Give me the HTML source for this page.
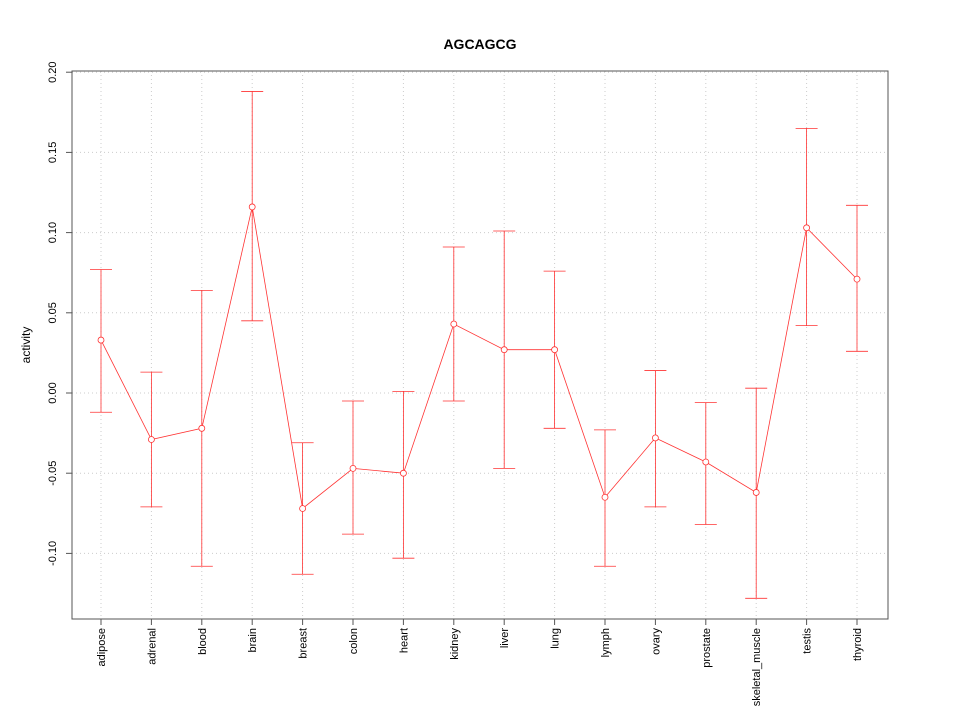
<!DOCTYPE html>
<html><head><meta charset="utf-8"><style>
body{margin:0;background:#fff}
svg text{font-family:"Liberation Sans",sans-serif;fill:#000}
</style></head><body>
<svg id="chart" width="960" height="720">
<text x="480" y="49" text-anchor="middle" font-weight="bold" font-size="14">AGCAGCG</text>
<text transform="translate(30,345) rotate(-90)" text-anchor="middle" font-size="12">activity</text>
<g id="grid"></g><g id="axes"></g><g id="marks"></g>
</svg>
<script>
const categories=["adipose","adrenal","blood","brain","breast","colon","heart","kidney","liver","lung","lymph","ovary","prostate","skeletal_muscle","testis","thyroid"];
const values=[0.033,-0.029,-0.022,0.116,-0.072,-0.047,-0.050,0.043,0.027,0.027,-0.065,-0.028,-0.043,-0.062,0.103,0.071];
const upper=[0.077,0.013,0.064,0.188,-0.031,-0.005,0.001,0.091,0.101,0.076,-0.023,0.014,-0.006,0.003,0.165,0.117];
const lower=[-0.012,-0.071,-0.108,0.045,-0.113,-0.088,-0.103,-0.005,-0.047,-0.022,-0.108,-0.071,-0.082,-0.128,0.042,0.026];
const yTicks=[-0.10,-0.05,0.00,0.05,0.10,0.15,0.20];
const yTickLabels=["-0.10","-0.05","0.00","0.05","0.10","0.15","0.20"];
const NS="http://www.w3.org/2000/svg";
const L=72,R=888,T=71,B=619;
function x(i){return 101+i*(857-101)/(categories.length-1);}
function y(v){return 393-v*1604;}
function mk(tag,attrs,parent){const e=document.createElementNS(NS,tag);for(const k in attrs)e.setAttribute(k,attrs[k]);document.getElementById(parent).appendChild(e);return e;}
let e;
categories.forEach((c,i)=>{
 e=mk("line",{x1:x(i),x2:x(i),y1:T,y2:B,stroke:"#ccc","stroke-dasharray":"1,3"},"grid");
 
 
 e=mk("line",{x1:x(i),x2:x(i),y1:B,y2:B+6,stroke:"#555"},"axes");
 
 
 e=mk("text",{transform:`translate(${x(i)+4},628) rotate(-90)`,"text-anchor":"end","font-size":"11"},"axes");
 e.textContent=c;
 
 
});
yTicks.forEach((v,i)=>{
 e=mk("line",{x1:L,x2:R,y1:y(v),y2:y(v),stroke:"#ccc","stroke-dasharray":"1,3"},"grid");
 
 
 e=mk("line",{x1:L-6,x2:L,y1:y(v),y2:y(v),stroke:"#555"},"axes");
 
 
 e=mk("text",{transform:`translate(${L-16},${y(v)}) rotate(-90)`,"text-anchor":"middle","font-size":"11"},"axes");
 e.textContent=yTickLabels[i];
 
 
});
e=mk("rect",{x:L,y:T,width:R-L,height:B-T,fill:"none",stroke:"#555"},"axes");


categories.forEach((c,i)=>{
 e=mk("line",{x1:x(i),x2:x(i),y1:y(upper[i]),y2:y(lower[i]),stroke:"#f33","stroke-width":"0.8"},"marks");
 
 
 [upper[i],lower[i]].forEach(v=>{
  e=mk("line",{x1:x(i)-11,x2:x(i)+11,y1:y(v),y2:y(v),stroke:"#f33","stroke-width":"0.8"},"marks");
  
  
 });
});
e=mk("polyline",{points:values.map((v,i)=>x(i)+","+y(v)).join(" "),fill:"none",stroke:"#f33","stroke-width":"0.8"},"marks");


values.forEach((v,i)=>{
 e=mk("circle",{cx:x(i),cy:y(v),r:3,fill:"#fff",stroke:"#f33","stroke-width":"0.8"},"marks");
 
 
});
</script>
</body></html>
